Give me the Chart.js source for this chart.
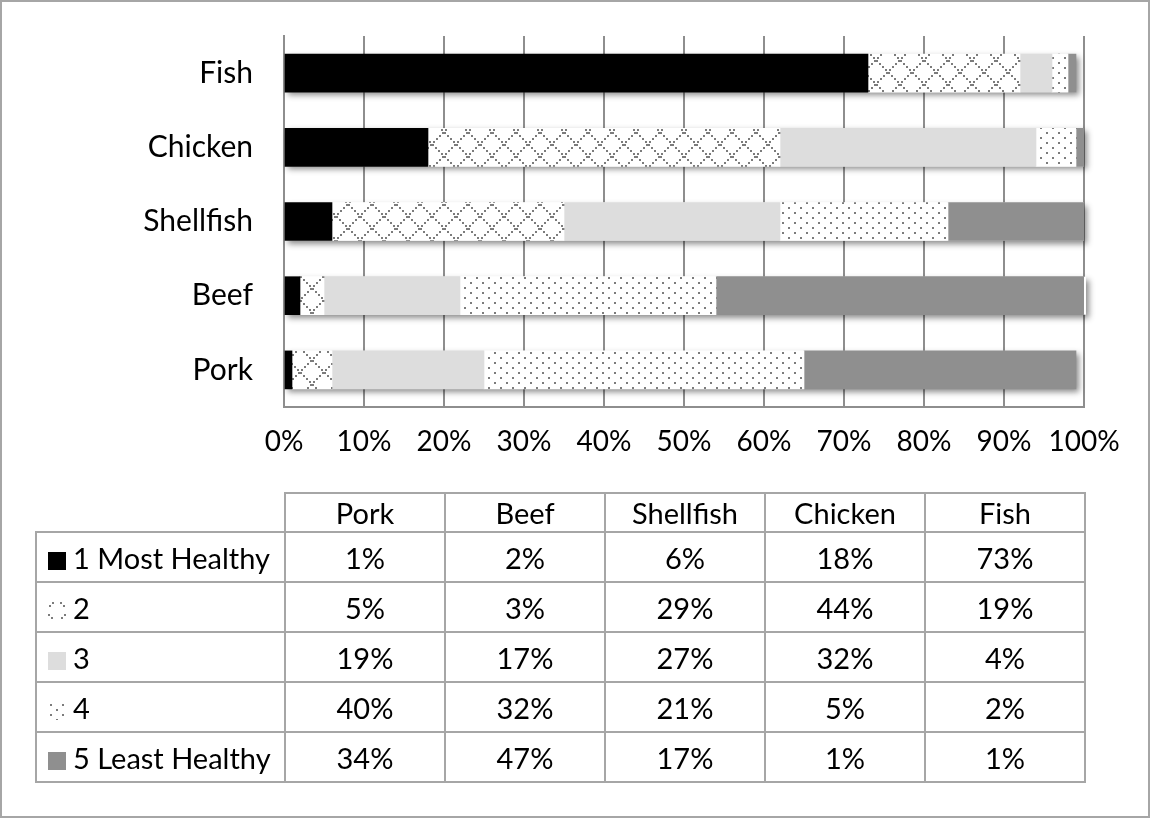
<!DOCTYPE html>
<html>
<head>
<meta charset="utf-8">
<script src="https://cdn.jsdelivr.net/npm/chart.js@4/dist/chart.umd.min.js"></script>
<style>
  body { margin: 0; background: #fff; font-family: Lato, sans-serif; }
  #wrap { position: relative; width: 1150px; height: 818px; }
  #frame { position: absolute; left: 0; top: 0; width: 1146px; height: 814px; border: 2px solid #a6a6a6; }
  #chart { position: absolute; left: 0; top: 0; }
  #table { position: absolute; left: 35px; top: 492px; border-collapse: collapse; table-layout: fixed; font-size: 29px; color: #000; }
  #table td { border: 2px solid #a6a6a6; text-align: center; padding: 0; white-space: nowrap; }
  #table tr.head td { height: 37px; }
  #table tr.row td { height: 48px; }
  #table td.name { text-align: left; padding-left: 11px; }
  #table td.corner { border-top: none; border-left: none; }
  .key { display: inline-block; width: 18px; height: 18px; margin-right: 7px; vertical-align: -1px; }
</style>
</head>
<body>
<div id="wrap">
  <div id="frame"></div>
  <canvas id="chart" width="1150" height="818"></canvas>
  <table id="table"></table>
</div>
<script>
const categories = ['Pork', 'Beef', 'Shellfish', 'Chicken', 'Fish'];
const seriesNames = ['1 Most Healthy', '2', '3', '4', '5 Least Healthy'];
const mostHealthy = [1, 2, 6, 18, 73];
const rank2 = [5, 3, 29, 44, 19];
const rank3 = [19, 17, 27, 32, 4];
const rank4 = [40, 32, 21, 5, 2];
const leastHealthy = [34, 47, 17, 1, 1];

const gridColor = '#8e8e8e';
const fontFamily = 'Lato, sans-serif';

// dotted diagonal cross hatch (series 2)
function crossTile() {
    const c = document.createElement('canvas');
    c.width = 24; c.height = 24;
    const g = c.getContext('2d');
    g.fillStyle = '#fff';
    g.fillRect(0, 0, 24, 24);
    g.fillStyle = '#7c7c7c';
    for (let i = 0; i < 24; i += 3) {
        g.fillRect(i, i, 2, 2);
        g.fillRect(22 - i, i, 2, 2);
    }
    return c;
}

// small dot grid (series 4)
function dotTile() {
    const c = document.createElement('canvas');
    c.width = 12; c.height = 10;
    const g = c.getContext('2d');
    g.fillStyle = '#fff';
    g.fillRect(0, 0, 12, 10);
    g.fillStyle = '#7c7c7c';
    g.fillRect(2, 2, 2, 2);
    g.fillRect(8, 7, 2, 2);
    return c;
}

const ctx = document.getElementById('chart');
const c2d = ctx.getContext('2d');
const cross = crossTile();
const dots = dotTile();

const fills = [
    '#000000',
    c2d.createPattern(cross, 'repeat'),
    '#dddddd',
    c2d.createPattern(dots, 'repeat'),
    '#8f8f8f'
];
const keyCss = [
    'background:#000',
    'background:url(' + cross.toDataURL() + ') -3px 9px',
    'background:#dddddd',
    'background:url(' + dots.toDataURL() + ')',
    'background:#8f8f8f'
];
const seriesValues = [mostHealthy, rank2, rank3, rank4, leastHealthy];

// soft shadow under each whole bar
const barShadow = {
    id: 'barShadow',
    beforeDatasetsDraw(chart) {
        const g = chart.ctx;
        const first = chart.getDatasetMeta(0).data;
        const last = chart.getDatasetMeta(chart.data.datasets.length - 1).data;
        g.save();
        g.shadowColor = 'rgba(0,0,0,0.45)';
        g.shadowBlur = 6;
        g.shadowOffsetX = 3;
        g.shadowOffsetY = 3;
        g.fillStyle = '#fff';
        first.forEach((bar, i) => {
            const right = Math.min(last[i].x, chart.chartArea.right + 2);
            g.fillRect(bar.base, bar.y - bar.height / 2, right - bar.base, bar.height);
        });
        g.restore();
    }
};

new Chart(ctx, {
    type: 'bar',
    data: {
        labels: categories,
        datasets: seriesValues.map((vals, i) => ({
            label: seriesNames[i],
            data: vals,
            backgroundColor: fills[i],
            borderWidth: 0,
            barThickness: 38
        }))
    },
    options: {
        indexAxis: 'y',
        responsive: false,
        animation: false,
        layout: {
            padding: { left: 0, right: 66, top: 36, bottom: 0 }
        },
        scales: {
            x: {
                stacked: true,
                min: 0,
                max: 100,
                afterFit(scale) { scale.height = 411; },
                ticks: {
                    stepSize: 10,
                    padding: 18,
                    color: '#000',
                    font: { family: fontFamily, size: 28 },
                    callback: v => v + '%'
                },
                grid: {
                    color: gridColor,
                    lineWidth: 2,
                    drawTicks: false
                },
                border: { display: true, color: gridColor, width: 2 }
            },
            y: {
                stacked: true,
                reverse: true,
                afterFit(scale) { scale.width = 284; },
                ticks: {
                    padding: 0,
                    color: '#000',
                    font: { family: fontFamily, size: 30 }
                },
                // labels sit tickLength away from the axis; no tick marks drawn
                grid: { display: false, drawTicks: true, tickLength: 31 },
                border: { display: true, color: gridColor, width: 2 }
            }
        },
        plugins: {
            legend: { display: false },
            tooltip: { enabled: false }
        }
    },
    plugins: [barShadow]
});

// data table under the chart
const table = document.getElementById('table');
let html = '<colgroup><col style="width:249px">';
categories.forEach(() => { html += '<col style="width:160px">'; });
html += '</colgroup><tr class="head"><td class="corner"></td>';
categories.forEach(c => { html += '<td>' + c + '</td>'; });
html += '</tr>';
seriesValues.forEach((vals, i) => {
    html += '<tr class="row"><td class="name"><span class="key" style="' + keyCss[i] + '"></span>' + seriesNames[i] + '</td>';
    vals.forEach(v => { html += '<td>' + v + '%</td>'; });
    html += '</tr>';
});
table.innerHTML = html;
</script>
</body>
</html>
